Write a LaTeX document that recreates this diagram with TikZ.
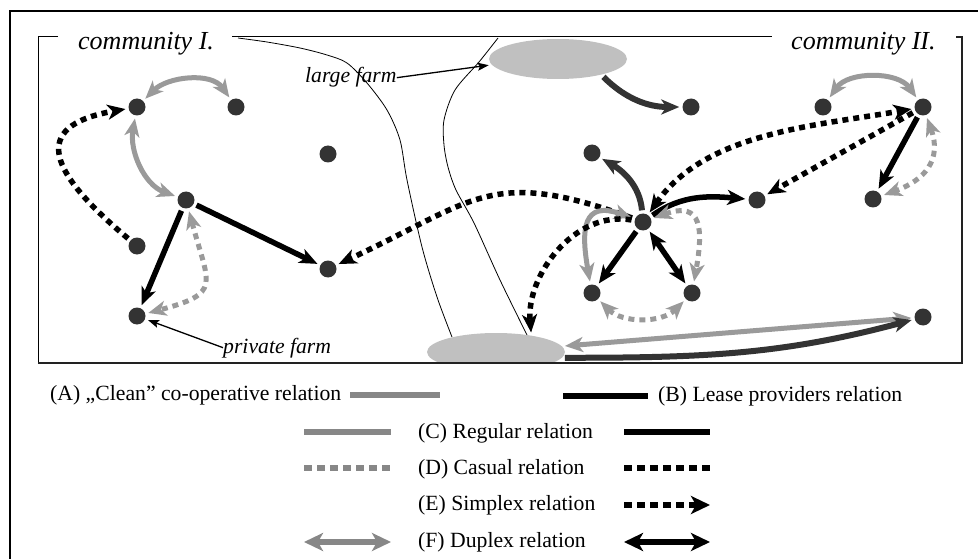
\documentclass[tikz,border=0pt]{standalone}
\usepackage{fontspec}
\setmainfont{Liberation Serif}
\usetikzlibrary{arrows.meta,shapes.geometric}
\definecolor{dotc}{HTML}{333333}
\definecolor{farmc}{HTML}{C0C0C0}
\definecolor{grc}{HTML}{9A9A9A}
\definecolor{lgc}{HTML}{878787}
\definecolor{dkc}{HTML}{333333}
\definecolor{frc}{HTML}{222222}
\begin{document}
\begin{tikzpicture}[x=1pt,y=1pt,
 >={Stealth[length=18pt,width=15pt,inset=5pt]},
 farmdot/.style={circle,fill=dotc,minimum size=17pt,inner sep=0pt},
 farm/.style={ellipse,fill=farmc,inner sep=0pt},
 rel/.style={line width=5.5pt,shorten >=3pt,shorten <=3pt},
 blk/.style={rel,draw=black},
 gry/.style={rel,draw=grc,line width=5pt},
 dkg/.style={rel,draw=dkc,line width=6pt},
 cas/.style={dash pattern=on 6pt off 5pt},
 bnd/.style={line width=0.8pt},
 lbl/.style={font=\fontsize{21.7}{26}\selectfont\itshape,inner sep=0pt,anchor=base west},
 comm/.style={font=\fontsize{26}{30}\selectfont\itshape,inner sep=0pt,anchor=base west},
 leg/.style={font=\fontsize{21.7}{26}\selectfont,inner sep=0pt,anchor=base west},
 lgl/.style={line width=6.5pt},
 lgcas/.style={dash pattern=on 8pt off 5pt},
 lgtip/.style={>={Stealth[length=19pt,width=18pt,inset=5pt]}},
 annot/.style={line width=1.3pt,-{Stealth[length=11pt,width=8pt,inset=2pt]},shorten >=3pt}
]
\useasboundingbox (0,-559) rectangle (978,0);

% boundary curves
\draw[bnd] plot[smooth] coordinates {(238,-38) (267,-42) (300,-48) (327,-55) (347,-63) (367,-83) (387,-110) (400,-140) (407,-180) (422,-247) (437,-297) (452,-337)};
\draw[bnd] plot[smooth] coordinates {(498,-38) (479,-62) (455,-90) (444,-120) (444,-145) (448,-167) (456,-190) (474,-223) (500,-280) (527,-335)};

% farms
\node[farm,minimum width=138pt,minimum height=40pt] (LF) at (558,-59) {};
\begin{scope}
\clip (0,-363) rectangle (978,0);
\node[farm,minimum width=138pt,minimum height=38pt] (PF) at (496,-352) {};
\end{scope}

% community I nodes
\node[farmdot] (n1) at (137,-107) {};
\node[farmdot] (n2) at (236,-107) {};
\node[farmdot] (n3) at (328,-154) {};
\node[farmdot] (n4) at (186,-200) {};
\node[farmdot] (n5) at (137,-246) {};
\node[farmdot] (n6) at (328,-269) {};
\node[farmdot] (n7) at (137,-316) {};
% community II nodes
\node[farmdot] (m1) at (691,-107) {};
\node[farmdot] (m2) at (823,-107) {};
\node[farmdot] (m3) at (923,-107) {};
\node[farmdot] (m4) at (592,-153) {};
\node[farmdot] (m5) at (643,-222) {};
\node[farmdot] (m6) at (757,-200) {};
\node[farmdot] (m7) at (873,-199) {};
\node[farmdot] (m8) at (592,-293) {};
\node[farmdot] (m9) at (692,-293) {};
\node[farmdot] (m10) at (923,-317) {};

% labels
\node[comm] (c1) at (78,-50) {community I.};
\node[comm] (c2) at (791,-50) {community II.};
\node[lbl] (lfl) at (305,-83) {large farm};
\node[lbl] (pfl) at (223,-353) {private farm};
\draw[annot] (lfl.east) -- (LF.185);
\draw[annot] (pfl.west) -- (n7);

% community I edges
\draw[gry,<->] (n1) to[out=45,in=125] (n2);
\draw[gry,<->] (n1) to[out=-100,in=160] (n4);
\draw[blk,cas,->] (n5) to[out=140,in=190,looseness=2] (n1);
\draw[blk,->] (n4) -- (n7);
\draw[gry,cas,<->] (n4) to[out=-75,in=15,looseness=1.8] (n7);
\draw[blk,->] (n4) -- (n6);
\draw[blk,cas,->] (m5) to[out=160,in=25,looseness=1.3] (n6);

% community II edges
\draw[dkg,->] (LF.-20) to[out=-45,in=180] (m1);
\draw[gry,<->] (m2) to[out=55,in=125] (m3);
\draw[blk,cas,<->] (m5) to[out=55,in=190,looseness=0.9] (m3);
\draw[blk,cas,->] (m3) -- (m6);
\draw[blk,->] (m3) -- (m7);
\draw[gry,cas,<->] (m3) to[out=-70,in=20,looseness=1.3] (m7);
\draw[dkg,->] (m5) to[out=95,in=-30] (m4);
\draw[blk,->] (m5) to[out=35,in=175] (m6);
\draw[blk,->] (m5) -- (m8);
\draw[blk,<->] (m5) -- (m9);
\draw[gry,<->] (m5) to[out=160,in=100,looseness=1.8] (m8);
\draw[gry,cas,<->] (m5) to[out=20,in=80,looseness=1.8] (m9);
\draw[gry,cas,<->] (m8) to[out=-45,in=-135] (m9);
\draw[blk,cas,->] (m5) to[out=170,in=95] (PF.25);
\draw[gry,<->] (PF.5) -- (m10);
\draw[dkg,->] (PF.-5) to[out=0,in=195] (m10);

% frames
\draw[line width=1.5pt] (10,-559) -- (10,-11) -- (978,-11);
\draw[line width=1pt] (58,-37) -- (38,-37) -- (38,-363);
\draw[line width=1pt] (232,-37) -- (772,-37);
\draw[line width=2pt,frc] (38,-363) -- (962,-363) -- (962,-37) -- (956,-37);

% legend
\node[leg] (la) at (50,-400) {(A) „Clean” co-operative relation};
\draw[lgl,lgc] (350,-395) -- (440,-395);
\node[leg] (lb) at (658,-401) {(B) Lease providers relation};
\draw[lgl,black] (563,-396) -- (648,-396);
\node[leg] (lc) at (418,-438) {(C) Regular relation};
\draw[lgl,lgc] (304,-432) -- (391,-432);
\draw[lgl,black] (624,-432) -- (710,-432);
\node[leg] (ld) at (418,-474) {(D) Casual relation};
\draw[lgl,lgc,lgcas] (304,-468) -- (391,-468);
\draw[lgl,black,lgcas] (624,-468) -- (710,-468);
\node[leg] (le) at (418,-510) {(E) Simplex relation};
\draw[lgl,black,lgcas,lgtip,->] (624,-505) -- (710,-505);
\node[leg] (lf) at (418,-547) {(F) Duplex relation};
\draw[lgl,lgc,lgtip,<->] (304,-542) -- (391,-542);
\draw[lgl,black,lgtip,<->] (624,-542) -- (710,-542);
\end{tikzpicture}
\end{document}
